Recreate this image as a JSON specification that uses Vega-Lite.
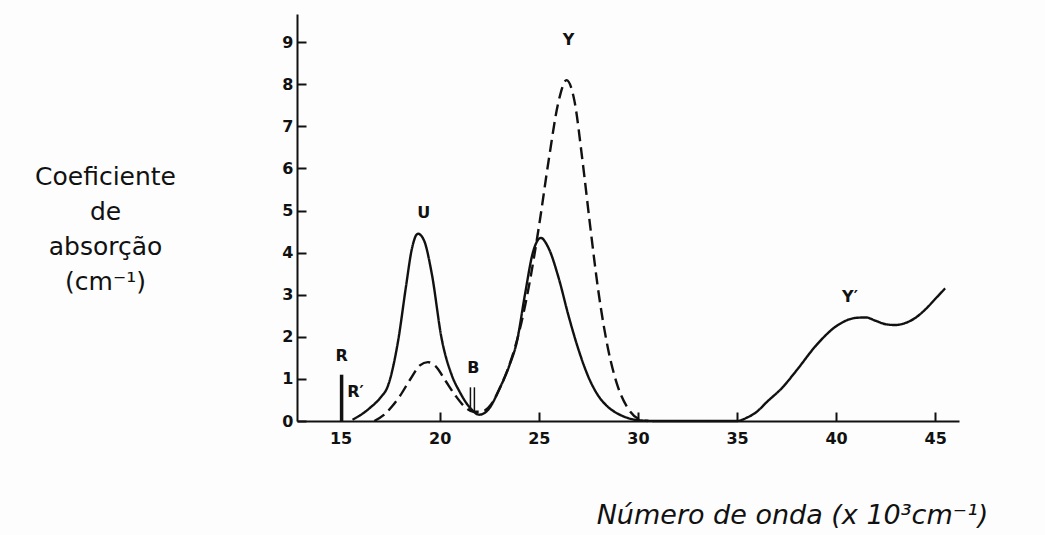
{
  "$schema": "https://vega.github.io/schema/vega-lite/v6.json",
  "width": 662,
  "height": 407,
  "autosize": {"type": "none"},
  "padding": {"left": 297, "top": 14, "right": 86, "bottom": 114},
  "background": "#fdfdfd",
  "config": {
    "view": {"stroke": null},
    "font": "DejaVu Sans",
    "axis": {
      "grid": false,
      "domainColor": "#111",
      "domainWidth": 2,
      "tickColor": "#111",
      "tickWidth": 2,
      "tickSize": -9,
      "labelColor": "#111",
      "labelFont": "DejaVu Sans",
      "labelFontWeight": "bold",
      "labelFontSize": 16,
      "titleColor": "#111",
      "titleFont": "DejaVu Sans",
      "titleFontWeight": "normal"
    }
  },
  "datasets": {
    "curves": [
      {"x": 15.6, "y": 0.03, "serie": "solid"},
      {"x": 16.0, "y": 0.14, "serie": "solid"},
      {"x": 16.5, "y": 0.32, "serie": "solid"},
      {"x": 17.0, "y": 0.55, "serie": "solid"},
      {"x": 17.4, "y": 0.85, "serie": "solid"},
      {"x": 17.9, "y": 1.9, "serie": "solid"},
      {"x": 18.3, "y": 3.2, "serie": "solid"},
      {"x": 18.6, "y": 4.1, "serie": "solid"},
      {"x": 18.9, "y": 4.45, "serie": "solid"},
      {"x": 19.2, "y": 4.3, "serie": "solid"},
      {"x": 19.6, "y": 3.5, "serie": "solid"},
      {"x": 20.1, "y": 1.95, "serie": "solid"},
      {"x": 20.6, "y": 1.1, "serie": "solid"},
      {"x": 21.0, "y": 0.7, "serie": "solid"},
      {"x": 21.5, "y": 0.33, "serie": "solid"},
      {"x": 22.0, "y": 0.15, "serie": "solid"},
      {"x": 22.5, "y": 0.3, "serie": "solid"},
      {"x": 23.0, "y": 0.75, "serie": "solid"},
      {"x": 23.5, "y": 1.3, "serie": "solid"},
      {"x": 23.9, "y": 1.9, "serie": "solid"},
      {"x": 24.3, "y": 3.0, "serie": "solid"},
      {"x": 24.7, "y": 4.0, "serie": "solid"},
      {"x": 25.1, "y": 4.35, "serie": "solid"},
      {"x": 25.5, "y": 4.1, "serie": "solid"},
      {"x": 26.0, "y": 3.4, "serie": "solid"},
      {"x": 26.5, "y": 2.5, "serie": "solid"},
      {"x": 27.0, "y": 1.7, "serie": "solid"},
      {"x": 27.5, "y": 1.05, "serie": "solid"},
      {"x": 28.0, "y": 0.6, "serie": "solid"},
      {"x": 28.5, "y": 0.33, "serie": "solid"},
      {"x": 29.0, "y": 0.17, "serie": "solid"},
      {"x": 29.5, "y": 0.07, "serie": "solid"},
      {"x": 30.0, "y": 0.02, "serie": "solid"},
      {"x": 31.0, "y": 0.0, "serie": "solid"},
      {"x": 33.0, "y": 0.0, "serie": "solid"},
      {"x": 35.0, "y": 0.0, "serie": "solid"},
      {"x": 35.5, "y": 0.08, "serie": "solid"},
      {"x": 36.0, "y": 0.22, "serie": "solid"},
      {"x": 36.5, "y": 0.45, "serie": "solid"},
      {"x": 37.3, "y": 0.8, "serie": "solid"},
      {"x": 38.0, "y": 1.2, "serie": "solid"},
      {"x": 39.0, "y": 1.8, "serie": "solid"},
      {"x": 40.0, "y": 2.25, "serie": "solid"},
      {"x": 41.0, "y": 2.45, "serie": "solid"},
      {"x": 41.5, "y": 2.46, "serie": "solid"},
      {"x": 42.0, "y": 2.38, "serie": "solid"},
      {"x": 42.5, "y": 2.3, "serie": "solid"},
      {"x": 43.0, "y": 2.28, "serie": "solid"},
      {"x": 43.5, "y": 2.33, "serie": "solid"},
      {"x": 44.0, "y": 2.45, "serie": "solid"},
      {"x": 44.5, "y": 2.65, "serie": "solid"},
      {"x": 45.0, "y": 2.9, "serie": "solid"},
      {"x": 45.5, "y": 3.15, "serie": "solid"},
      {"x": 16.7, "y": 0.0, "serie": "dashed"},
      {"x": 17.2, "y": 0.15, "serie": "dashed"},
      {"x": 17.6, "y": 0.35, "serie": "dashed"},
      {"x": 18.0, "y": 0.6, "serie": "dashed"},
      {"x": 18.5, "y": 0.98, "serie": "dashed"},
      {"x": 19.0, "y": 1.32, "serie": "dashed"},
      {"x": 19.4, "y": 1.4, "serie": "dashed"},
      {"x": 19.8, "y": 1.3, "serie": "dashed"},
      {"x": 20.3, "y": 0.95, "serie": "dashed"},
      {"x": 20.8, "y": 0.6, "serie": "dashed"},
      {"x": 21.3, "y": 0.32, "serie": "dashed"},
      {"x": 21.7, "y": 0.22, "serie": "dashed"},
      {"x": 22.1, "y": 0.22, "serie": "dashed"},
      {"x": 22.6, "y": 0.4, "serie": "dashed"},
      {"x": 23.1, "y": 0.85, "serie": "dashed"},
      {"x": 23.6, "y": 1.45, "serie": "dashed"},
      {"x": 24.0, "y": 2.1, "serie": "dashed"},
      {"x": 24.5, "y": 3.2, "serie": "dashed"},
      {"x": 25.0, "y": 4.6, "serie": "dashed"},
      {"x": 25.5, "y": 6.2, "serie": "dashed"},
      {"x": 26.0, "y": 7.6, "serie": "dashed"},
      {"x": 26.4, "y": 8.1, "serie": "dashed"},
      {"x": 26.8, "y": 7.6, "serie": "dashed"},
      {"x": 27.2, "y": 6.2, "serie": "dashed"},
      {"x": 27.6, "y": 4.6, "serie": "dashed"},
      {"x": 28.0, "y": 3.1, "serie": "dashed"},
      {"x": 28.5, "y": 1.7, "serie": "dashed"},
      {"x": 29.0, "y": 0.8, "serie": "dashed"},
      {"x": 29.5, "y": 0.3, "serie": "dashed"},
      {"x": 30.0, "y": 0.06, "serie": "dashed"},
      {"x": 30.5, "y": 0.0, "serie": "dashed"}
    ],
    "bars": [
      {"x": 15.05, "y": 0, "y2": 1.1, "w": "thick"},
      {"x": 21.55, "y": 0.25, "y2": 0.8, "w": "thin"},
      {"x": 21.75, "y": 0.2, "y2": 0.8, "w": "thin"}
    ],
    "labels": [
      {"x": 15.05, "y": 1.55, "t": "R"},
      {"x": 15.75, "y": 0.7, "t": "R′"},
      {"x": 19.2, "y": 4.95, "t": "U"},
      {"x": 21.7, "y": 1.25, "t": "B"},
      {"x": 26.5, "y": 9.05, "t": "Y"},
      {"x": 40.7, "y": 2.95, "t": "Y′"}
    ]
  },
  "layer": [
    {
      "data": {"name": "curves"},
      "mark": {"type": "line", "interpolate": "monotone", "color": "#111", "strokeWidth": 2.4},
      "encoding": {
        "x": {
          "field": "x", "type": "quantitative",
          "scale": {"domain": [12.8, 46.2], "nice": false, "zero": false},
          "axis": {
            "values": [15, 20, 25, 30, 35, 40, 45],
            "labelPadding": 18,
            "title": "Número  de  onda  (x 10³cm⁻¹)",
            "titleFontSize": 27,
            "titleFontStyle": "italic",
            "titleX": 495,
            "titleY": 94,
            "titleAlign": "center",
            "titleBaseline": "middle"
          }
        },
        "y": {
          "field": "y", "type": "quantitative",
          "scale": {"domain": [0, 9.67], "nice": false},
          "axis": {
            "values": [0, 1, 2, 3, 4, 5, 6, 7, 8, 9],
            "labelPadding": 13,
            "title": ["Coeficiente", "de", "absorção", "(cm⁻¹)"],
            "titleFontSize": 25,
            "titleAngle": 0,
            "titleAlign": "center",
            "titleBaseline": "top",
            "titleLineHeight": 35,
            "titleX": -192,
            "titleY": 150
          }
        },
        "detail": {"field": "serie"},
        "strokeDash": {
          "field": "serie", "type": "nominal",
          "scale": {"domain": ["solid", "dashed"], "range": [[1, 0], [12, 6]]},
          "legend": null
        }
      }
    },
    {
      "data": {"name": "bars"},
      "mark": {"type": "rule", "color": "#111"},
      "encoding": {
        "x": {"field": "x", "type": "quantitative"},
        "y": {"field": "y", "type": "quantitative"},
        "y2": {"field": "y2"},
        "strokeWidth": {
          "field": "w", "type": "nominal",
          "scale": {"domain": ["thick", "thin"], "range": [3.5, 1.5]},
          "legend": null
        }
      }
    },
    {
      "data": {"name": "labels"},
      "mark": {"type": "text", "color": "#111", "fontSize": 16, "fontWeight": "bold", "font": "DejaVu Sans"},
      "encoding": {
        "x": {"field": "x", "type": "quantitative"},
        "y": {"field": "y", "type": "quantitative"},
        "text": {"field": "t"}
      }
    }
  ]
}
